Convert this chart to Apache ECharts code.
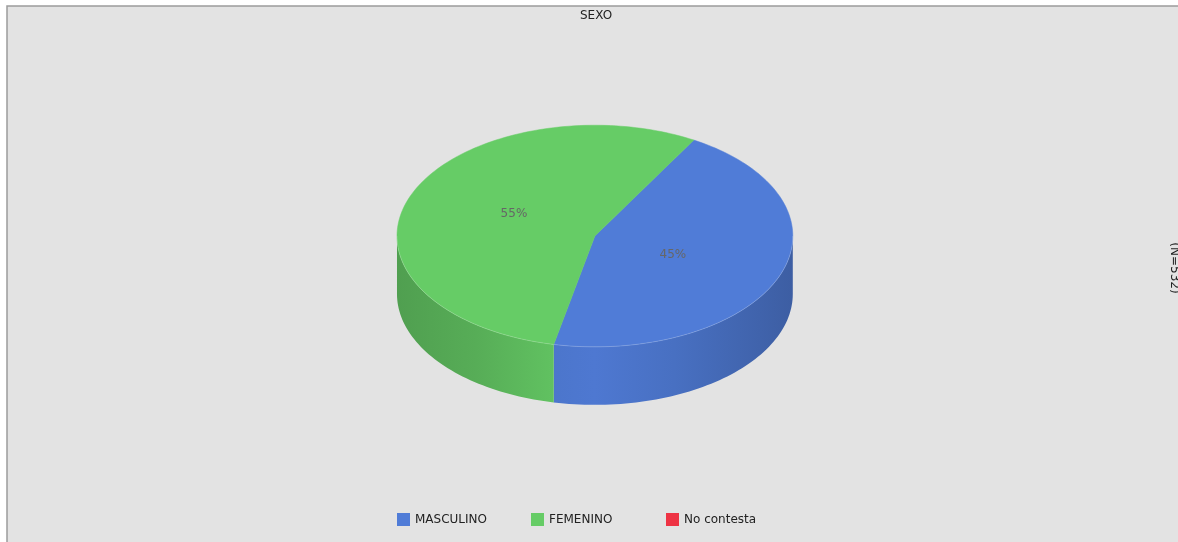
<!DOCTYPE html>
<html>
<head>
<meta charset="utf-8">
<title>SEXO</title>
<script src="https://cdn.jsdelivr.net/npm/echarts@6/dist/echarts.min.js"></script>
<style>
  html, body { margin: 0; padding: 0; background: #ffffff; }
  #chart { width: 1178px; height: 542px; }
</style>
</head>
<body>
<div id="chart"></div>
<script>
// Survey question and answers
const chartTitle = 'SEXO';
const sampleNote = '(N=532)';
const categories = ['MASCULINO', 'FEMENINO', 'No contesta'];
const percentValues = [45, 55, 0];
const sliceColors = ['#507cd7', '#66cc66', '#ee3344'];

const FONT = '"DejaVu Sans", Verdana, sans-serif';
const START_ANGLE = 60; // degrees, slices run clockwise from here

const total = percentValues.reduce((a, b) => a + b, 0);

// start angle of every slice, accumulated clockwise
const sliceStarts = [];
(function () {
  let s = START_ANGLE;
  percentValues.forEach(v => { sliceStarts.push(s); s -= v / total * 360; });
})();

function shade(hex, f) {
  const n = parseInt(hex.slice(1), 16);
  const r = Math.round(((n >> 16) & 255) * f);
  const g = Math.round(((n >> 8) & 255) * f);
  const b = Math.round((n & 255) * f);
  return 'rgb(' + r + ',' + g + ',' + b + ')';
}

function pieGeometry(api) {
  const W = api.getWidth(), H = api.getHeight();
  const rx = W * 0.168;
  return { cx: W * 0.505, cy: H * 0.4355, rx: rx, ry: rx * 0.56, depth: rx * 0.293 };
}

function arcPoints(g, from, to, dy) {
  const pts = [];
  const steps = Math.max(2, Math.ceil(Math.abs(to - from) / 1.5));
  for (let i = 0; i <= steps; i++) {
    const t = (from + (to - from) * i / steps) * Math.PI / 180;
    pts.push([g.cx + g.rx * Math.cos(t), g.cy - g.ry * Math.sin(t) + (dy || 0)]);
  }
  return pts;
}

function makeRenderer(idx) {
  return function (params, api) {
    const value = percentValues[idx];
    if (!value) return { type: 'group', children: [] };
    const g = pieGeometry(api);
    const color = sliceColors[idx];
    const hi = sliceStarts[idx];
    const lo = hi - value / total * 360;
    const children = [];

    // front wall: part of the slice facing the viewer (lower half of the ellipse)
    const wallFill = {
      type: 'linear', global: true,
      x: g.cx - g.rx, y: 0, x2: g.cx + g.rx, y2: 0,
      colorStops: [
        { offset: 0, color: shade(color, 0.78) },
        { offset: 0.2, color: shade(color, 0.85) },
        { offset: 0.4, color: shade(color, 0.95) },
        { offset: 0.5, color: shade(color, 0.97) },
        { offset: 0.7, color: shade(color, 0.9) },
        { offset: 1, color: shade(color, 0.76) }
      ]
    };
    for (let k = -2; k <= 2; k++) {
      const a = Math.max(lo, -180 + 360 * k);
      const b = Math.min(hi, 360 * k);
      if (b > a) {
        const top = arcPoints(g, a, b, 0);
        const bottom = arcPoints(g, b, a, g.depth);
        children.push({
          type: 'polygon', z2: 1,
          shape: { points: top.concat(bottom) },
          style: { fill: wallFill, stroke: null }
        });
        children.push({
          type: 'polyline', z2: 3,
          shape: { points: top },
          style: { fill: null, stroke: 'rgba(255,255,255,0.18)', lineWidth: 1 }
        });
      }
    }

    // top face
    const topPts = [[g.cx, g.cy]].concat(arcPoints(g, hi, lo, 0));
    children.push({
      type: 'polygon', z2: 2,
      shape: { points: topPts },
      style: { fill: color, stroke: color, lineWidth: 0.5 }
    });

    // percentage label
    const mid = (hi + lo) / 2 * Math.PI / 180;
    children.push({
      type: 'text', z2: 5,
      style: {
        text: value + '%',
        x: g.cx - 1.5 + g.rx * 0.43 * Math.cos(mid),
        y: g.cy - 1.5 - g.ry * 0.516 * Math.sin(mid),
        fill: '#666666',
        font: '12px ' + FONT,
        align: 'center',
        verticalAlign: 'middle'
      }
    });
    return { type: 'group', children: children };
  };
}

const series = categories.map((name, i) => ({
  type: 'custom',
  name: name,
  coordinateSystem: 'none',
  data: [[percentValues[i]]],
  itemStyle: { color: sliceColors[i] },
  silent: true,
  renderItem: makeRenderer(i)
}));

const legendLefts = [397, 531, 666];
const legends = categories.map((name, i) => ({
  data: [name],
  left: legendLefts[i],
  top: 513,
  padding: 0,
  icon: 'rect',
  itemWidth: 13,
  itemHeight: 13,
  selectedMode: false,
  textStyle: { color: '#222222', fontSize: 12, fontFamily: FONT }
}));

const chart = echarts.init(document.getElementById('chart'), null, { renderer: 'canvas' });
chart.setOption({
  backgroundColor: '#ffffff',
  animation: false,
  title: {
    text: chartTitle,
    left: 580,
    top: 10,
    padding: 0,
    textStyle: { color: '#222222', fontSize: 12, fontWeight: 'normal', fontFamily: FONT }
  },
  legend: legends,
  graphic: [
    {
      type: 'rect', z: -10, silent: true,
      shape: { x: 7, y: 6, width: 1180, height: 545 },
      style: { fill: '#e3e3e3', stroke: '#9c9c9c', lineWidth: 1.5 }
    },
    {
      type: 'text', z: 10, silent: true,
      x: 1174, y: 268, rotation: -Math.PI / 2,
      style: {
        text: sampleNote,
        fill: '#222222',
        font: '12px ' + FONT,
        align: 'center',
        verticalAlign: 'middle'
      }
    }
  ],
  series: series
});
</script>
</body>
</html>
